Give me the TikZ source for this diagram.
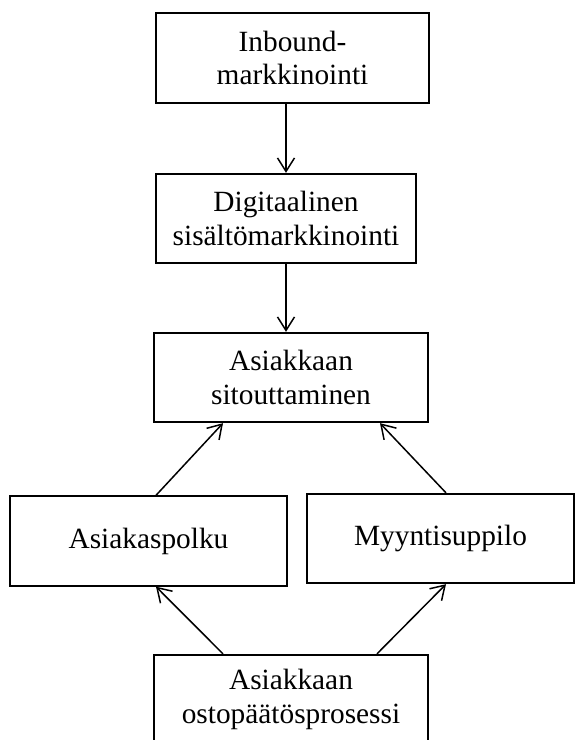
\documentclass[tikz,border=0pt]{standalone}
\usepackage{fontspec}
\setmainfont{Liberation Serif}
\usetikzlibrary{arrows.meta,calc}
\begin{document}
\begin{tikzpicture}[
box/.style={%
draw,
line width=1.05pt,
align=center,
inner sep=0pt,
font=\fontsize{16.7}{19}\selectfont,
minimum height=1.79cm,
},
arr/.style={%
line width=0.85pt,
-{Straight Barb[length=2.7mm,width=3.4mm,line width=0.85pt]},
}
]
\useasboundingbox(0,0)rectangle(11.5,-14.8);

%boxes
\node[box,minimum width=5.46cm](inbound)at(5.85,-1.16){Inbound-\\markkinointi};
\node[box,minimum width=5.2cm](digi)at(5.72,-4.37){Digitaalinen\\sisältömarkkinointi};
\node[box,minimum width=5.48cm](sitout)at(5.82,-7.55){Asiakkaan\\sitouttaminen};
\node[box,minimum width=5.54cm](polku)at(2.97,-10.82){Asiakaspolku};
\node[box,minimum width=5.34cm](suppilo)at(8.81,-10.77){Myyntisuppilo};
\node[box,minimum width=5.48cm](osto)at(5.82,-13.99){Asiakkaan\\ostopäätösprosessi};

%arrows
\draw[arr](digi.north|-inbound.south)--(digi.north);
\draw[arr](digi.south)--(digi.south|-sitout.north);
\draw[arr]([xshift=0.15cm]polku.north)--([xshift=-1.36cm]sitout.south);
\draw[arr]([xshift=0.11cm]suppilo.north)--([xshift=1.78cm]sitout.south);
\draw[arr]([xshift=-1.36cm]osto.north)--([xshift=0.15cm]polku.south);
\draw[arr]([xshift=1.72cm]osto.north)--([xshift=0.11cm]suppilo.south);

\end{tikzpicture}
\end{document}
